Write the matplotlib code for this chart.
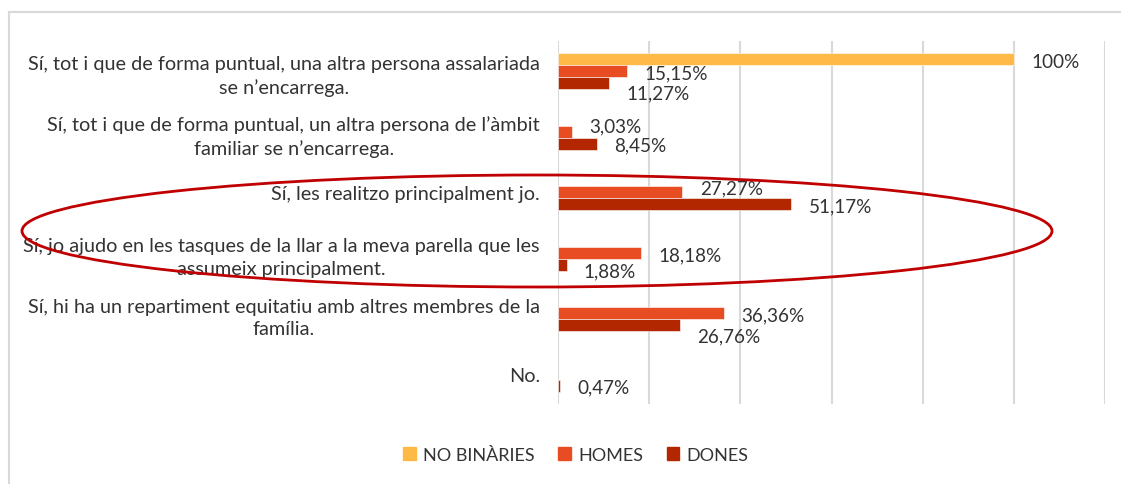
import matplotlib
matplotlib.use("Agg")
import matplotlib.pyplot as plt
import numpy as np
from matplotlib.patches import Patch, Ellipse

plt.rcParams['font.family'] = ['Lato', 'DejaVu Sans']

categories = [
    "Sí, tot i que de forma puntual, una altra persona assalariada\nse n’encarrega.",
    "Sí, tot i que de forma puntual, un altra persona de l’àmbit\nfamiliar se n’encarrega.",
    "Sí, les realitzo principalment jo.",
    "Sí, jo ajudo en les tasques de la llar a la meva parella que les\nassumeix principalment.",
    "Sí, hi ha un repartiment equitatiu amb altres membres de la\nfamília.",
    "No.",
]
series_names = ["NO BINÀRIES", "HOMES", "DONES"]
no_binaries = [100, np.nan, np.nan, np.nan, np.nan, np.nan]
homes = [15.15, 3.03, 27.27, 18.18, 36.36, np.nan]
dones = [11.27, 8.45, 51.17, 1.88, 26.76, 0.47]

colors = ["#FFB947", "#E84C22", "#B22600"]
# vertical nudge of the data labels in pixels (down is positive), like Excel moved them
nudges = [[2, 0, 0, 0, 0, 0],
          [2, -6, -4, 2, 2, 0],
          [10, 1, 2, 6, 11, 1]]

W, H = 1121, 485
fig = plt.figure(figsize=(W / 100, H / 100), dpi=100)
ax = fig.add_axes([558 / W, 1 - 405 / H, (1105 - 558) / W, (405 - 42) / H])

y = np.arange(len(categories))
bh = 0.2
text_col = "#333333"

for k, (vals, col) in enumerate(zip([no_binaries, homes, dones], colors)):
    pos = y + (k - 1) * bh
    ax.barh(pos, vals, height=bh, color=col, edgecolor="white", linewidth=0.4)
    for i, v in enumerate(vals):
        if np.isnan(v):
            continue
        lab = f"{v:.0f}%" if v == int(v) else f"{v:.2f}%".replace(".", ",")
        ax.annotate(lab, xy=(v, pos[i]), xytext=(12.5, -nudges[k][i] * 0.72),
                    textcoords="offset points", ha="left", va="center",
                    fontsize=13.6, color=text_col)

ax.set_xlim(0, 120)
ax.set_ylim(len(categories) - 0.5, -0.5)
ax.set_xticks(range(0, 121, 20))
ax.set_yticks(y, categories)
for t in ax.get_yticklabels():
    t.set_multialignment("center")
    t.set_linespacing(1.4)
ax.tick_params(axis="x", length=0, labelbottom=False)
ax.tick_params(axis="y", length=0, pad=13, labelsize=14.3, labelcolor=text_col)
ax.grid(axis="x", color="#D9D9D9", linewidth=1.5)
ax.set_axisbelow(True)
for s in ax.spines.values():
    s.set_visible(False)

handles = [Patch(color=c) for c in colors]
fig.legend(handles, series_names, loc="center", bbox_to_anchor=(576 / W, 1 - 456 / H),
           ncol=3, frameon=False, fontsize=13, handlelength=0.7, handleheight=0.7,
           handletextpad=0.4, columnspacing=1.3, labelcolor=text_col)

# overlay: chart border and the hand-drawn red ellipse
ov = fig.add_axes([0, 0, 1, 1], zorder=5)
ov.set_xlim(0, W)
ov.set_ylim(H, 0)
ov.axis("off")
ov.patch.set_alpha(0)
ov.plot([9, 9], [13, H], color="#D9D9D9", lw=1.5)
ov.plot([9, W], [13, 13], color="#D9D9D9", lw=1.5)
ov.add_patch(Ellipse((537, 232), 1030, 112, fill=False, edgecolor="#C00000", lw=2))

fig.savefig("out.png", dpi=100)
